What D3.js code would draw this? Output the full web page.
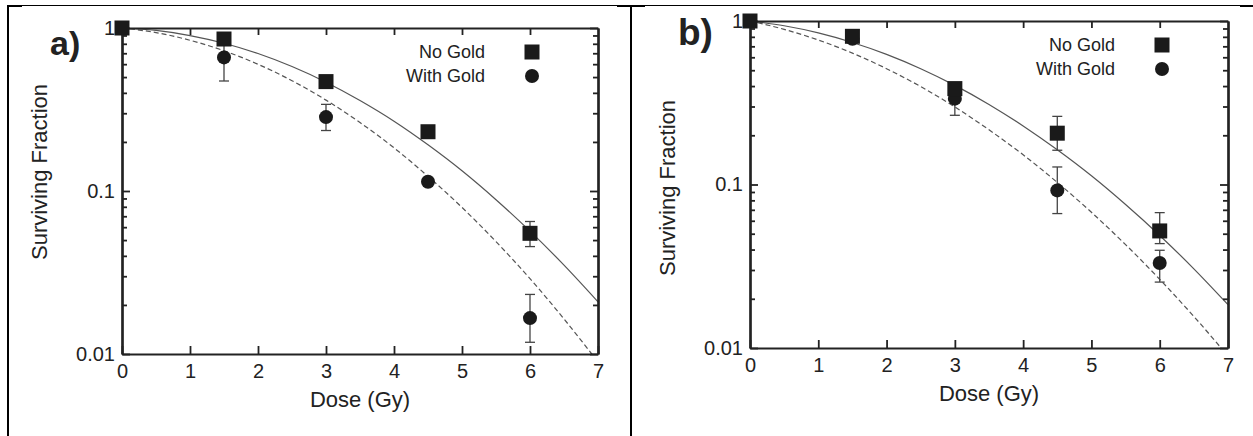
<!DOCTYPE html>
<html>
<head>
<meta charset="utf-8">
<script src="https://cdn.jsdelivr.net/npm/d3@7"></script>
<style>
  body { margin: 0; background: #fff; }
  svg { display: block; font-family: "Liberation Sans", Arial, sans-serif; }
  .axis path, .axis line { stroke: #222; }
  .axis text { fill: #222; font-size: 20px; font-family: "Liberation Sans", Arial, sans-serif; }
</style>
</head>
<body>
<svg id="chart" width="1253" height="436"></svg>
<script>
// dose points (Gy)
var doses = [0, 1.5, 3, 4.5, 6];

// panel a) measured surviving fractions, null = no visible error bar
var aNoGold = [1, 0.856, 0.469, 0.231, 0.055];
var aNoGoldLo = [null, null, null, null, 0.0456];
var aNoGoldHi = [null, null, null, null, 0.065];
var aWithGold = [1, 0.66, 0.284, 0.114, 0.0166];
var aWithGoldLo = [null, 0.473, 0.235, null, 0.0118];
var aWithGoldHi = [null, 0.85, 0.34, null, 0.0232];

// panel b)
var bNoGold = [1, 0.806, 0.386, 0.206, 0.052];
var bNoGoldLo = [null, null, null, 0.162, 0.0435];
var bNoGoldHi = [null, null, null, 0.261, 0.0673];
var bWithGold = [1, 0.778, 0.335, 0.092, 0.0331];
var bWithGoldLo = [null, null, 0.265, 0.0664, 0.0253];
var bWithGoldHi = [null, null, 0.40, 0.128, 0.0396];

// fitted curves every 0.5 Gy
var fitDoses = [0, 0.5, 1, 1.5, 2, 2.5, 3, 3.5, 4, 4.5, 5, 5.5, 6, 6.5, 7];
var aFitNoGold = [1, 0.966, 0.899, 0.806, 0.697, 0.580, 0.465, 0.359, 0.268, 0.192, 0.133, 0.0884, 0.0567, 0.0351, 0.0209];
var aFitWithGold = [1, 0.937, 0.841, 0.725, 0.599, 0.475, 0.361, 0.263, 0.184, 0.123, 0.0793, 0.0489, 0.0290, 0.0164, 0.00894];
var bFitNoGold = [1, 0.935, 0.846, 0.739, 0.625, 0.511, 0.404, 0.309, 0.228, 0.163, 0.113, 0.0754, 0.0488, 0.0305, 0.0184];
var bFitWithGold = [1, 0.889, 0.765, 0.636, 0.511, 0.397, 0.298, 0.216, 0.152, 0.103, 0.0676, 0.0429, 0.0263, 0.0156, 0.00892];

// axis ticks
var xTicks = [0, 1, 2, 3, 4, 5, 6, 7];
var yTicks = [1, 0.1, 0.01];
var yTickLabels = ["1", "0.1", "0.01"];
var yMinor = [0.02, 0.03, 0.04, 0.05, 0.06, 0.07, 0.08, 0.09, 0.2, 0.3, 0.4, 0.5, 0.6, 0.7, 0.8, 0.9];
var legendNames = ["No Gold", "With Gold"];

var svg = d3.select("#chart");

// table borders round the two figures
var frame = svg.append("g").attr("stroke", "#000");
frame.append("line").attr("x1", 7).attr("x2", 1253).attr("y1", 5.5).attr("y2", 5.5).attr("stroke-width", 1);
[[7, 22], [617, 645], [1240, 1253]].forEach(function (s) {
  frame.append("line").attr("x1", s[0]).attr("x2", s[1]).attr("y1", 6).attr("y2", 6).attr("stroke-width", 2);
});
[8, 631].forEach(function (x) {
  frame.append("line").attr("x1", x).attr("x2", x).attr("y1", 5).attr("y2", 436).attr("stroke-width", 2);
});

var panels = [
  {id: "a", label: "a)", labelSize: 34, labelX: 50, labelY: 55, left: 122, right: 598, top: 28, bottom: 354, yTitle: 172,
   noGold: aNoGold, noGoldLo: aNoGoldLo, noGoldHi: aNoGoldHi,
   withGold: aWithGold, withGoldLo: aWithGoldLo, withGoldHi: aWithGoldHi,
   fitNo: aFitNoGold, fitWith: aFitWithGold},
  {id: "b", label: "b)", labelSize: 37, labelX: 678, labelY: 45, left: 750, right: 1228, top: 21, bottom: 348, yTitle: 188,
   noGold: bNoGold, noGoldLo: bNoGoldLo, noGoldHi: bNoGoldHi,
   withGold: bWithGold, withGoldLo: bWithGoldLo, withGoldHi: bWithGoldHi,
   fitNo: bFitNoGold, fitWith: bFitWithGold}
];

panels.forEach(function (p) {
  var x = d3.scaleLinear().domain([0, 7]).range([p.left, p.right]);
  var y = d3.scaleLog().domain([0.01, 1]).range([p.bottom, p.top]);
  var g = svg.append("g");

  //clip the fit lines to the plot box
  g.append("clipPath").attr("id", "clip-" + p.id)
    .append("rect").attr("x", p.left).attr("y", p.top)
    .attr("width", p.right - p.left).attr("height", p.bottom - p.top);

  var line = d3.line()
    .x(function (d) { return x(d[0]); })
    .y(function (d) { return y(d[1]); })
    .curve(d3.curveMonotoneX);

  g.append("path").datum(d3.zip(fitDoses, p.fitNo))
    .attr("clip-path", "url(#clip-" + p.id + ")")
    .attr("d", line).attr("fill", "none").attr("stroke", "#555").attr("stroke-width", 1.2);
  g.append("path").datum(d3.zip(fitDoses, p.fitWith))
    .attr("clip-path", "url(#clip-" + p.id + ")")
    .attr("d", line).attr("fill", "none").attr("stroke", "#555").attr("stroke-width", 1.2)
    .attr("stroke-dasharray", "5,3");

  // axes, ticks all point inward
  var bottomAxis = d3.axisBottom(x).tickValues(xTicks).tickFormat(d3.format("d"))
    .tickSizeInner(-8).tickSizeOuter(0).tickPadding(10);
  var topAxis = d3.axisTop(x).tickValues(xTicks.slice(1, 7)).tickFormat("")
    .tickSizeInner(-7).tickSizeOuter(0);
  var leftAxis = d3.axisLeft(y).tickValues(yTicks)
    .tickFormat(function (d, i) { return yTickLabels[i]; })
    .tickSizeInner(-8).tickSizeOuter(0).tickPadding(7);
  var leftMinor = d3.axisLeft(y).tickValues(yMinor).tickFormat("").tickSizeInner(-5).tickSizeOuter(0);
  var rightAxis = d3.axisRight(y).tickValues(yTicks).tickFormat("").tickSizeInner(-8).tickSizeOuter(0);
  var rightMinor = d3.axisRight(y).tickValues(yMinor).tickFormat("").tickSizeInner(-5).tickSizeOuter(0);

  var axes = [
    [bottomAxis, "translate(0," + p.bottom + ")"],
    [topAxis, "translate(0," + p.top + ")"],
    [leftAxis, "translate(" + p.left + ",0)"],
    [leftMinor, "translate(" + p.left + ",0)"],
    [rightAxis, "translate(" + p.right + ",0)"],
    [rightMinor, "translate(" + p.right + ",0)"]
  ];
  axes.forEach(function (a) {
    var ag = g.append("g").attr("class", "axis").attr("transform", a[1]).call(a[0]);
    ag.select(".domain").attr("stroke-width", 2.2);
    ag.selectAll(".tick line").attr("stroke-width", 1.8);
  });

  // error bars
  var errG = g.append("g").attr("stroke", "#444").attr("stroke-width", 1.3);
  function errorBars(vals, lo, hi) {
    doses.forEach(function (d, i) {
      var cx = x(d);
      if (lo[i] != null) {
        errG.append("line").attr("x1", cx).attr("x2", cx).attr("y1", y(vals[i])).attr("y2", y(lo[i]));
        errG.append("line").attr("x1", cx - 5).attr("x2", cx + 5).attr("y1", y(lo[i])).attr("y2", y(lo[i]));
      }
      if (hi[i] != null) {
        errG.append("line").attr("x1", cx).attr("x2", cx).attr("y1", y(vals[i])).attr("y2", y(hi[i]));
        errG.append("line").attr("x1", cx - 5).attr("x2", cx + 5).attr("y1", y(hi[i])).attr("y2", y(hi[i]));
      }
    });
  }
  errorBars(p.withGold, p.withGoldLo, p.withGoldHi);
  errorBars(p.noGold, p.noGoldLo, p.noGoldHi);

  g.selectAll(".dot-" + p.id).data(d3.zip(doses, p.withGold)).enter().append("circle")
    .attr("cx", function (d) { return x(d[0]); })
    .attr("cy", function (d) { return y(d[1]); })
    .attr("r", 7).attr("fill", "#1a1a1a");
  g.selectAll(".sq-" + p.id).data(d3.zip(doses, p.noGold)).enter().append("rect")
    .attr("x", function (d) { return x(d[0]) - 7.5; })
    .attr("y", function (d) { return y(d[1]) - 7.5; })
    .attr("width", 15).attr("height", 15).attr("fill", "#1a1a1a");

  // legend in the top right of the plot
  var legY = p.top + 30;
  legendNames.forEach(function (name, i) {
    g.append("text").attr("x", p.right - 113).attr("y", legY + i * 24)
      .attr("text-anchor", "end").attr("font-size", 18).attr("fill", "#222").text(name);
  });
  g.append("rect").attr("x", p.right - 66 - 7.5).attr("y", legY - 6 - 7.5)
    .attr("width", 15).attr("height", 15).attr("fill", "#1a1a1a");
  g.append("circle").attr("cx", p.right - 66).attr("cy", legY + 24 - 6).attr("r", 7).attr("fill", "#1a1a1a");

  // axis titles
  g.append("text").attr("x", (p.left + p.right) / 2).attr("y", p.bottom + 53)
    .attr("text-anchor", "middle").attr("font-size", 22).attr("fill", "#222").text("Dose (Gy)");
  g.append("text").attr("transform", "translate(" + (p.left - 75) + "," + p.yTitle + ")rotate(-90)")
    .attr("text-anchor", "middle").attr("font-size", 22).attr("fill", "#222").text("Surviving Fraction");

  g.append("text").attr("x", p.labelX).attr("y", p.labelY)
    .attr("font-size", p.labelSize).attr("font-weight", "bold").attr("fill", "#222").text(p.label);
});
</script>
</body>
</html>
